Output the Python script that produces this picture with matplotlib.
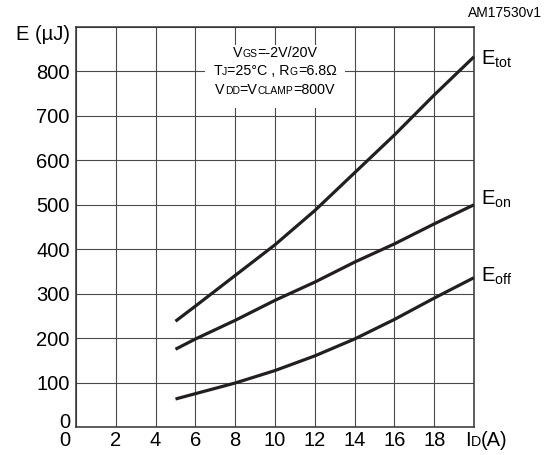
import matplotlib
matplotlib.use('Agg')
import matplotlib.pyplot as plt
from matplotlib.offsetbox import TextArea, HPacker, AnnotationBbox
from matplotlib.patches import Rectangle

plt.rcParams['font.family'] = ['Liberation Sans', 'DejaVu Sans']
plt.rcParams['mathtext.fontset'] = 'custom'
plt.rcParams['mathtext.rm'] = 'Liberation Sans'

# switching energy vs drain current
i_d = [5, 6, 8, 10, 12, 14, 16, 18, 20]
e_tot = [238, 272, 341, 410, 487, 572, 657, 747, 833]
e_on = [175, 198, 240, 285, 326, 371, 412, 457, 500]
e_off = [63, 75, 99, 127, 160, 198, 242, 290, 336]

x_ticks = list(range(0, 21, 2))
y_ticks = list(range(0, 901, 100))

PX = 0.72  # points per pixel at dpi 100
TICK_FS = 14.5
BIG, SMALL = 10.3, 7.5

fig = plt.figure(figsize=(5.55, 4.55), dpi=100)
ax = fig.add_axes([76/555, 28/455, 398/555, 400/455])

ax.set_xlim(0, 20)
ax.set_ylim(0, 900)
ax.set_xticks(x_ticks)
ax.set_yticks(y_ticks)
ax.set_xticklabels([''] + [str(v) for v in x_ticks[1:-1]] + [''], fontsize=TICK_FS)
ax.set_yticklabels([''] + [str(v) for v in y_ticks[1:-1]] + [''], fontsize=TICK_FS)
ax.tick_params(length=0, pad=3)
ax.tick_params(axis='y', pad=4.5)
ax.set_axisbelow(True)
ax.grid(True, color='#4a4a4a', lw=0.8)
for s in ax.spines.values():
    s.set_linewidth(1.1)
    s.set_color('#333333')

# the two "0" labels sit a little off the corner
ax.annotate('0', xy=(0, 0), xytext=(-11*PX, -13*PX), textcoords='offset points',
            ha='center', va='center', fontsize=TICK_FS, annotation_clip=False)
ax.annotate('0', xy=(0, 0), xytext=(-6*PX, 5*PX), textcoords='offset points',
            ha='right', va='center', fontsize=TICK_FS, annotation_clip=False)

for e in (e_tot, e_on, e_off):
    ax.plot(i_d, e, color='#231f20', lw=2.3, solid_capstyle='butt', zorder=3, clip_on=False)

# curve labels
ax.annotate(r'$\mathrm{E_{tot}}$', xy=(20, 815), xytext=(7*PX, 0), textcoords='offset points',
            ha='left', va='baseline', fontsize=TICK_FS, annotation_clip=False)
ax.annotate(r'$\mathrm{E_{on}}$', xy=(20, 500), xytext=(7*PX, 0), textcoords='offset points',
            ha='left', va='baseline', fontsize=TICK_FS, annotation_clip=False)
ax.annotate(r'$\mathrm{E_{off}}$', xy=(20, 326), xytext=(7*PX, 0), textcoords='offset points',
            ha='left', va='baseline', fontsize=TICK_FS, annotation_clip=False)


def mixed(parts, xy, off=(0, 0), align=(0.5, 0.5)):
    kids = [TextArea(s, textprops=dict(fontsize=fs, color='black')) for s, fs in parts]
    box = HPacker(children=kids, align='baseline', pad=0, sep=0)
    ab = AnnotationBbox(box, xy, xycoords='data', xybox=off, boxcoords='offset points',
                        box_alignment=align, frameon=False, zorder=5, annotation_clip=False)
    ax.add_artist(ab)


# conditions box
ax.add_patch(Rectangle((6.5, 718), 7.0, 142, facecolor='white', edgecolor='none', zorder=1))
mixed([('V', BIG), ('GS', SMALL), ('=-2V/20V', BIG)], (10, 842))
mixed([('T', BIG), ('J', SMALL), ('=25°C , R', BIG), ('G', SMALL), ('=6.8Ω', BIG)], (10, 800))
mixed([('V', BIG), ('DD', SMALL), ('=V', BIG), ('CLAMP', SMALL), ('=800V', BIG)], (10, 759))

# axis titles
mixed([('I', TICK_FS), ('D', BIG), ('(A)', TICK_FS)], (20, 0), off=(-9*PX, -13*PX), align=(0, 0.5))
ax.annotate('E (µJ)', xy=(0, 900), xytext=(-6*PX, -8*PX), textcoords='offset points',
            ha='right', va='center', fontsize=TICK_FS, annotation_clip=False)

fig.text(542/555, 1 - 13/455, 'AM17530v1', ha='right', va='center', fontsize=10)

fig.savefig('out.png', dpi=100)
